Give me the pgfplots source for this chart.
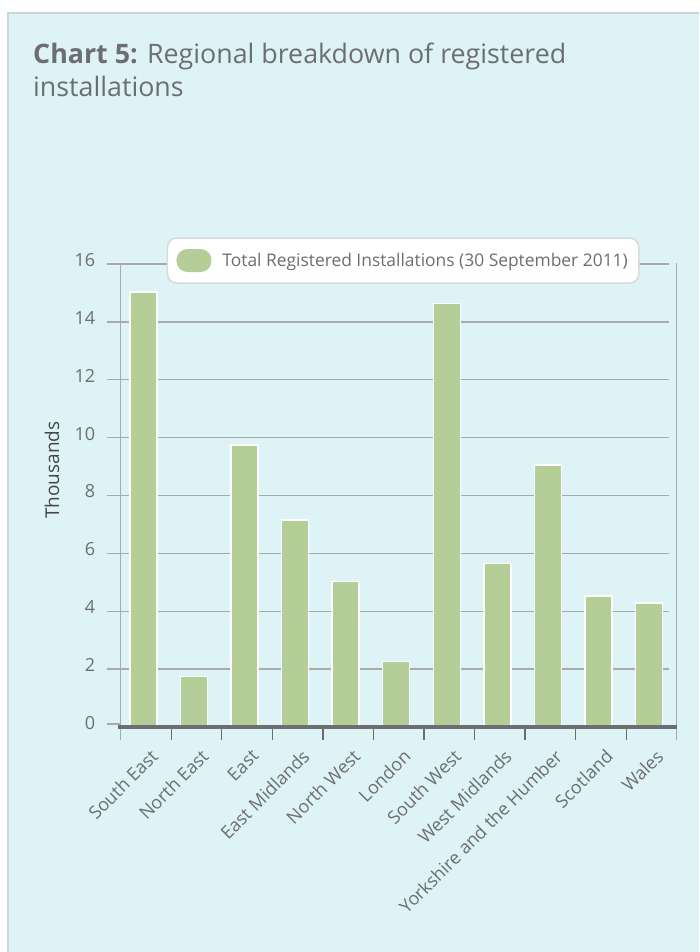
\documentclass[border=0pt]{standalone}
\usepackage{fontspec}
\setmainfont{Open Sans}
\usepackage{pgfplots}
\pgfplotsset{compat=1.18}
\definecolor{bgc}{RGB}{221,243,246}
\definecolor{barc}{RGB}{181,205,151}
\definecolor{txtc}{RGB}{109,110,113}
\definecolor{gridc}{RGB}{167,169,172}
\definecolor{borderc}{RGB}{205,212,215}
\definecolor{legc}{RGB}{215,218,220}
\begin{document}
\begin{tikzpicture}[x=1pt,y=1pt]
\useasboundingbox (0,0) rectangle (699,952);
\fill[white] (0,0) rectangle (699,952);
\fill[bgc] (8,0) rectangle (699,939);
\draw[borderc, line width=1.5pt] (8,0) -- (8,939) -- (699,939);
\node[anchor=base west, text=txtc, inner sep=0pt, font=\fontsize{26.8}{31}\selectfont] at (33,888) {\textbf{Chart 5:} Regional breakdown of registered};
\node[anchor=base west, text=txtc, inner sep=0pt, font=\fontsize{26.8}{31}\selectfont] at (33,855) {installations};
\begin{axis}[
  at={(120.7pt,225pt)}, anchor=south west,
  scale only axis, width=556pt, height=463pt,
  xmin=-0.5, xmax=10.5, ymin=0, ymax=16,
  axis line style={draw=none},
  major tick length=0pt,
  tick style={draw=none},
  ytick={0,2,...,16},
  xtick={0,...,10},
  xticklabels={South East,North East,East,East Midlands,North West,London,South West,West Midlands,Yorkshire and the Humber,Scotland,Wales},
  xticklabel style={inner sep=0pt, xshift=3.5pt, yshift=-21pt, rotate=45, anchor=north east, font=\fontsize{18}{21}\selectfont, text=txtc},
  yticklabel style={xshift=-22pt, yshift=4pt, anchor=east, font=\fontsize{18}{21}\selectfont, text=txtc},
  /pgf/number format/assume math mode=true,
  clip=false,
  ylabel={Thousands},
  ylabel style={at={(axis description cs:-0.1236,0.555)}, anchor=center, font=\fontsize{19}{22}\selectfont, text=black!72},
  legend style={at={(0.508,1.0075)}, anchor=center, draw=legc, fill=white, rounded corners=9pt, line width=1.5pt, font=\fontsize{17.4}{20}\selectfont, text=txtc, inner xsep=9pt, inner ysep=11pt},
]
\pgfplotsinvokeforeach{2,4,...,16}{\draw[gridc, line width=1.3pt] (axis cs:-0.777,#1) -- (axis cs:10.342,#1);}
\draw[gridc, line width=1.3pt] (axis cs:-0.777,0.1) -- (axis cs:-0.5,0.1);
\addplot[ybar, bar width=27pt, bar shift=-2.5pt, fill=barc, draw=white, line width=1.5pt,
  legend image code/.code={\fill[barc, draw=none, rounded corners=11pt] (0pt,-11.5pt) rectangle (35pt,11.5pt); \path[draw=none, fill=none] (0pt,0pt) -- (44pt,0pt);}]
  coordinates {(0,15.03) (1,1.75) (2,9.74) (3,7.16) (4,5.03) (5,2.26) (6,14.63) (7,5.65) (8,9.06) (9,4.52) (10,4.28)};
\addlegendentry{Total Registered Installations (30 September 2011)}
\draw[gridc, line width=1.5pt] (axis cs:-0.5,16) -- (axis cs:-0.5,0) -- ([yshift=-13pt]axis cs:-0.5,0);
\draw[gridc, line width=1.5pt] (axis cs:10.5,16.03) -- (axis cs:10.5,0) -- ([yshift=-13pt]axis cs:10.5,0);
\pgfplotsinvokeforeach{0.5,1.5,...,9.5}{\draw[txtc, line width=1.3pt] (axis cs:#1,0) -- ([yshift=-13pt]axis cs:#1,0);}
\draw[txtc, line width=4pt] (axis cs:-0.55,0) -- (axis cs:10.5,0);
\end{axis}
\end{tikzpicture}
\end{document}
